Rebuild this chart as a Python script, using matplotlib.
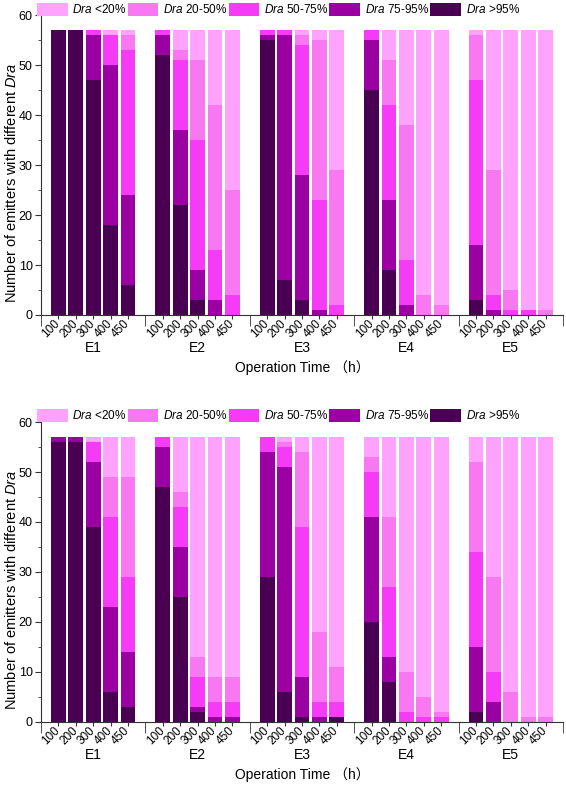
import numpy as np
import matplotlib
matplotlib.use("Agg")
import matplotlib.pyplot as plt
from matplotlib.patches import Patch
from matplotlib.ticker import MultipleLocator

plt.rcParams['font.family'] = ['Liberation Sans', 'Noto Sans CJK SC', 'DejaVu Sans']
plt.rcParams['mathtext.fontset'] = 'custom'
plt.rcParams['mathtext.it'] = 'Liberation Sans:italic'
plt.rcParams['mathtext.rm'] = 'Liberation Sans'

# emitter groups and operation times
groups = ['E1', 'E2', 'E3', 'E4', 'E5']
times = ['100', '200', '300', '400', '450']
classes = ['$\\it{Dra}$ <20%', '$\\it{Dra}$ 20-50%', '$\\it{Dra}$ 50-75%',
           '$\\it{Dra}$ 75-95%', '$\\it{Dra}$ >95%']
colors = ['#FFA3FF', '#F878F2', '#F53BF5', '#9A00A2', '#4A0052']

# counts per bar (E1 100 ... E5 450), stacked from bottom: >95, 75-95, 50-75, 20-50, <20
top_gt95 = [57, 57, 47, 18, 6,   52, 22, 3, 0, 0,   55, 7, 3, 0, 0,   45, 9, 0, 0, 0,   3, 0, 0, 0, 0]
top_75_95 = [0, 0, 9, 32, 18,   4, 15, 6, 3, 0,   1, 49, 25, 1, 0,   10, 14, 2, 0, 0,   11, 1, 0, 0, 0]
top_50_75 = [0, 0, 1, 6, 29,   1, 14, 26, 10, 4,   1, 1, 26, 22, 2,   2, 19, 9, 0, 0,   33, 3, 1, 1, 0]
top_20_50 = [0, 0, 0, 0, 3,   0, 2, 16, 29, 21,   0, 0, 2, 32, 27,   0, 9, 27, 4, 2,   9, 25, 4, 0, 1]
top_lt20 = [0, 0, 0, 1, 1,   0, 4, 6, 15, 32,   0, 0, 1, 2, 28,   0, 6, 19, 53, 55,   1, 28, 52, 56, 56]

bot_gt95 = [56, 56, 39, 6, 3,   47, 25, 2, 0, 0,   29, 6, 1, 0, 1,   20, 8, 0, 0, 0,   2, 0, 0, 0, 0]
bot_75_95 = [1, 1, 13, 17, 11,   8, 10, 1, 1, 1,   25, 45, 8, 1, 0,   21, 5, 0, 0, 0,   13, 4, 0, 0, 0]
bot_50_75 = [0, 0, 4, 18, 15,   2, 8, 6, 3, 3,   3, 4, 30, 3, 3,   9, 14, 2, 1, 1,   19, 6, 0, 0, 0]
bot_20_50 = [0, 0, 0, 8, 20,   0, 3, 4, 5, 5,   0, 1, 15, 14, 7,   3, 14, 8, 4, 1,   18, 19, 6, 1, 1]
bot_lt20 = [0, 0, 1, 8, 8,   0, 11, 44, 48, 48,   0, 1, 3, 39, 46,   4, 16, 47, 52, 55,   5, 28, 51, 56, 56]

top_data = [top_lt20, top_20_50, top_50_75, top_75_95, top_gt95]
bot_data = [bot_lt20, bot_20_50, bot_50_75, bot_75_95, bot_gt95]

fs = 8
x = np.array([g * 6 + j for g in range(len(groups)) for j in range(len(times))])

fig = plt.figure(figsize=(5.66, 7.91), dpi=100)
W, H = 566, 791


def panel(bottom_px, top_px, data, legend_y_px):
    ax = fig.add_axes([41 / W, 1 - bottom_px / H, (563 - 41) / W, (bottom_px - top_px) / H])
    base = np.zeros(len(x))
    # draw from bottom (>95%) upward
    for k in range(4, -1, -1):
        vals = np.array(data[k], dtype=float)
        ax.bar(x, vals, 0.86, bottom=base, color=colors[k], linewidth=0)
        base += vals
    ax.set_xlim(-1, 29)
    ax.set_ylim(0, 60)
    ax.spines['top'].set_visible(False)
    ax.spines['right'].set_visible(False)
    ax.spines['left'].set_color('#333333')
    ax.spines['bottom'].set_color('#333333')
    ax.yaxis.set_major_locator(MultipleLocator(10))
    ax.yaxis.set_minor_locator(MultipleLocator(5))
    ax.tick_params(axis='y', which='major', length=4, labelsize=fs + 1, pad=2, color='#333333')
    ax.tick_params(axis='y', which='minor', length=2, color='#333333')
    ax.set_xticks(x)
    ax.set_xticklabels(times * len(groups), rotation=45, ha='right', va='center',
                       rotation_mode='anchor')
    ax.set_xticks([-1, 5, 11, 17, 23, 29], minor=True)
    ax.tick_params(axis='x', which='major', length=3, labelsize=fs + 0.5, pad=2, color='#333333')
    ax.tick_params(axis='x', which='minor', length=8, color='#333333')
    for g, name in enumerate(groups):
        ax.annotate(name, xy=(g * 6 + 2, 0), xycoords=('data', 'axes fraction'),
                    xytext=(0, -33 * 0.72), textcoords='offset points',
                    ha='center', va='center', fontsize=fs + 2)
    ax.annotate('Operation Time （h）', xy=(0.5, 0), xycoords='axes fraction',
                xytext=(0, -53 * 0.72), textcoords='offset points',
                ha='center', va='center', fontsize=fs + 2)
    ax.set_ylabel('Number of emitters with different $\\it{Dra}$', fontsize=fs + 2.5)
    ax.yaxis.set_label_coords(-22 / 522, 0.44)
    handles = [Patch(facecolor=c, edgecolor='none') for c in colors]
    fig.legend(handles, classes, ncol=5, loc='center left',
               bbox_to_anchor=(37 / W, 1 - legend_y_px / H), frameon=False,
               fontsize=fs + 0.5, handlelength=2.6, handleheight=1.4,
               handletextpad=0.4, columnspacing=0.1, borderaxespad=0, borderpad=0)
    return ax


panel(315, 15, top_data, 9.5)
panel(722, 422, bot_data, 415.5)

fig.savefig('out.png', dpi=100)
